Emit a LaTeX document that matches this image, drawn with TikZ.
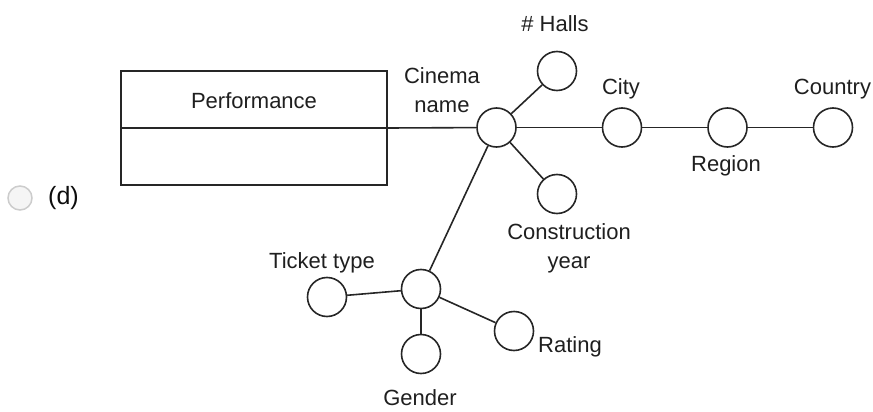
\documentclass[tikz,border=0pt]{standalone}
\usepackage{fontspec}
\setmainfont{Liberation Sans}
\usetikzlibrary{positioning}

\begin{document}
\begin{tikzpicture}[
  x=0.5pt, y=-0.5pt,
  font=\fontsize{11}{14.5}\selectfont,
  ent/.style={draw=black!85, line width=0.8pt, minimum width=133pt, minimum height=57pt, inner sep=0pt},
  att/.style={draw=black!85, circle, line width=0.8pt, minimum size=19.5pt, inner sep=0pt},
  lnk/.style={draw=black!85, line width=0.8pt},
  lab/.style={text=black!88, align=center, inner sep=0pt},
  radio/.style={draw=black!20, fill=black!4, circle, line width=0.75pt, minimum size=12pt, inner sep=0pt}
]
\useasboundingbox (0,0) rectangle (873,412);

% Option marker
\node[radio] (opt) at (20,198) {};
\node[lab, font=\fontsize{12.5}{15}\selectfont, text=black!95] (optlab) at (63.5,198) {(d)};

% Entity
\node[ent] (perf) at (254,128) {};
\draw[lnk] (perf.west) -- (perf.east);
\node[lab] (perflab) at (254,101) {Performance};

% Cinema dimension
\node[att] (cin) at (496.5,127.5) {};
\node[att] (halls) at (557,71) {};
\node[att] (cons) at (557,194) {};
\node[att] (city) at (622,127.5) {};
\node[att] (reg) at (727.5,127.5) {};
\node[att] (ctry) at (833,127.5) {};

% Ticket dimension
\node[att] (tick) at (421,289) {};
\node[att] (ttype) at (327,297) {};
\node[att] (gend) at (421,354) {};
\node[att] (rate) at (514,331) {};

% Labels
\node[lab] (cinlab) at (442,90) {Cinema\\name};
\node[lab] (hallslab) at (555,24) {\# Halls};
\node[lab] (conslab) at (569,248.5) {Construction\\year};
\node[lab] (citylab) at (621,89) {City};
\node[lab] (reglab) at (726,166) {Region};
\node[lab] (ctrylab) at (832.5,89) {Country};
\node[lab] (ttypelab) at (322,263) {Ticket type};
\node[lab] (gendlab) at (420,398) {Gender};
\node[lab] (ratelab) at (570,347) {Rating};

% Connections
\draw[lnk] (perf.east) -- (cin);
\draw[lnk] (cin) -- (halls);
\draw[lnk] (cin) -- (cons);
\draw[lnk] (cin) -- (city);
\draw[lnk] (city) -- (reg);
\draw[lnk] (reg) -- (ctry);
\draw[lnk] (cin) -- (tick);
\draw[lnk] (ttype) -- (tick);
\draw[lnk] (tick) -- (gend);
\draw[lnk] (tick) -- (rate);

\end{tikzpicture}
\end{document}
